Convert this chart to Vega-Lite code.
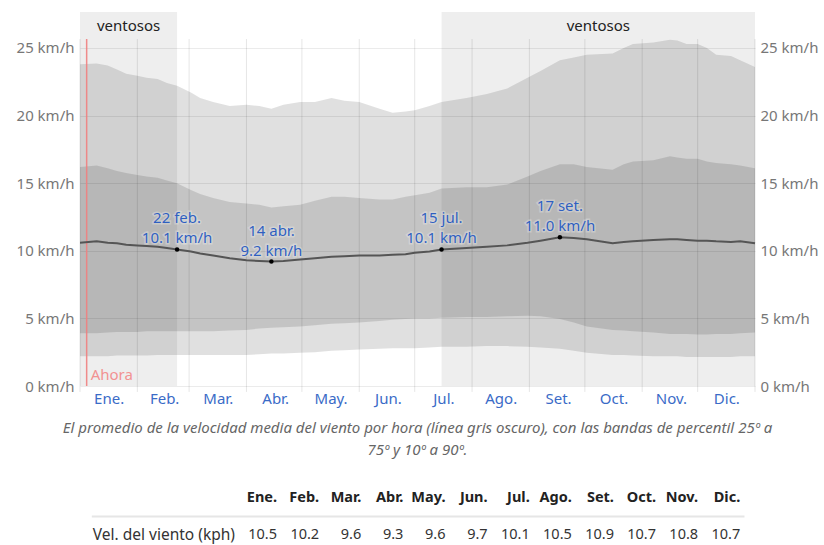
{
  "$schema": "https://vega.github.io/schema/vega-lite/v6.json",
  "padding": {"left": 16, "top": 12, "right": 0, "bottom": 0},
  "background": "white",
  "config": {"view": {"stroke": null}, "font": "Noto Sans"},
  "bounds": "flush",
  "spacing": 102.75,
  "datasets": {
    "bands": [
      {"d": 0, "p10": 2.2, "p25": 3.9, "m": 10.6, "p75": 16.2, "p90": 23.8},
      {"d": 9, "p10": 2.2, "p25": 3.9, "m": 10.7, "p75": 16.3, "p90": 23.85},
      {"d": 15, "p10": 2.2, "p25": 3.95, "m": 10.6, "p75": 16.1, "p90": 23.7},
      {"d": 20, "p10": 2.25, "p25": 4.0, "m": 10.55, "p75": 15.9, "p90": 23.4},
      {"d": 25, "p10": 2.25, "p25": 4.0, "m": 10.45, "p75": 15.75, "p90": 23.1},
      {"d": 31, "p10": 2.25, "p25": 4.0, "m": 10.4, "p75": 15.6, "p90": 22.95},
      {"d": 36, "p10": 2.25, "p25": 4.05, "m": 10.35, "p75": 15.5, "p90": 22.8},
      {"d": 42, "p10": 2.3, "p25": 4.05, "m": 10.3, "p75": 15.4, "p90": 22.7},
      {"d": 47, "p10": 2.3, "p25": 4.05, "m": 10.2, "p75": 15.2, "p90": 22.4},
      {"d": 52.5, "p10": 2.3, "p25": 4.05, "m": 10.1, "p75": 15.0, "p90": 22.2},
      {"d": 60, "p10": 2.3, "p25": 4.05, "m": 9.95, "p75": 14.5, "p90": 21.7},
      {"d": 65, "p10": 2.3, "p25": 4.05, "m": 9.8, "p75": 14.2, "p90": 21.3},
      {"d": 72, "p10": 2.3, "p25": 4.05, "m": 9.65, "p75": 13.9, "p90": 21.0},
      {"d": 81, "p10": 2.3, "p25": 4.1, "m": 9.45, "p75": 13.6, "p90": 20.7},
      {"d": 90, "p10": 2.3, "p25": 4.15, "m": 9.3, "p75": 13.5, "p90": 20.8},
      {"d": 97, "p10": 2.35, "p25": 4.25, "m": 9.25, "p75": 13.4, "p90": 20.7},
      {"d": 103.5, "p10": 2.4, "p25": 4.3, "m": 9.2, "p75": 13.2, "p90": 20.5},
      {"d": 110, "p10": 2.4, "p25": 4.35, "m": 9.25, "p75": 13.3, "p90": 20.8},
      {"d": 119, "p10": 2.45, "p25": 4.4, "m": 9.35, "p75": 13.4, "p90": 21.0},
      {"d": 127, "p10": 2.5, "p25": 4.5, "m": 9.45, "p75": 13.7, "p90": 21.0},
      {"d": 136, "p10": 2.6, "p25": 4.6, "m": 9.55, "p75": 14.0, "p90": 21.3},
      {"d": 143, "p10": 2.65, "p25": 4.65, "m": 9.6, "p75": 14.0, "p90": 21.1},
      {"d": 151, "p10": 2.7, "p25": 4.7, "m": 9.65, "p75": 13.9, "p90": 21.0},
      {"d": 162, "p10": 2.75, "p25": 4.8, "m": 9.65, "p75": 13.8, "p90": 20.5},
      {"d": 169, "p10": 2.8, "p25": 4.9, "m": 9.7, "p75": 13.8, "p90": 20.2},
      {"d": 176, "p10": 2.8, "p25": 4.95, "m": 9.75, "p75": 14.0, "p90": 20.3},
      {"d": 181, "p10": 2.8, "p25": 5.0, "m": 9.85, "p75": 14.1, "p90": 20.4},
      {"d": 189, "p10": 2.85, "p25": 5.0, "m": 9.95, "p75": 14.3, "p90": 20.7},
      {"d": 195.5, "p10": 2.9, "p25": 5.05, "m": 10.1, "p75": 14.6, "p90": 21.0},
      {"d": 209, "p10": 2.9, "p25": 5.1, "m": 10.2, "p75": 14.7, "p90": 21.3},
      {"d": 220, "p10": 2.95, "p25": 5.1, "m": 10.3, "p75": 14.7, "p90": 21.6},
      {"d": 231, "p10": 2.95, "p25": 5.15, "m": 10.4, "p75": 14.9, "p90": 22.0},
      {"d": 242, "p10": 2.9, "p25": 5.2, "m": 10.6, "p75": 15.5, "p90": 22.8},
      {"d": 249, "p10": 2.85, "p25": 5.15, "m": 10.75, "p75": 15.9, "p90": 23.3},
      {"d": 259.5, "p10": 2.75, "p25": 4.95, "m": 11.0, "p75": 16.4, "p90": 24.1},
      {"d": 267, "p10": 2.6, "p25": 4.7, "m": 10.95, "p75": 16.4, "p90": 24.3},
      {"d": 274, "p10": 2.45, "p25": 4.4, "m": 10.85, "p75": 16.2, "p90": 24.5},
      {"d": 288, "p10": 2.3, "p25": 4.15, "m": 10.55, "p75": 16.0, "p90": 24.6},
      {"d": 294, "p10": 2.3, "p25": 4.1, "m": 10.65, "p75": 16.4, "p90": 25.0},
      {"d": 299, "p10": 2.25, "p25": 4.05, "m": 10.7, "p75": 16.6, "p90": 25.3},
      {"d": 310, "p10": 2.2, "p25": 3.95, "m": 10.8, "p75": 16.7, "p90": 25.4},
      {"d": 319, "p10": 2.2, "p25": 3.85, "m": 10.85, "p75": 17.0, "p90": 25.6},
      {"d": 323, "p10": 2.2, "p25": 3.85, "m": 10.85, "p75": 16.9, "p90": 25.55},
      {"d": 328, "p10": 2.15, "p25": 3.85, "m": 10.8, "p75": 16.8, "p90": 25.3},
      {"d": 334, "p10": 2.15, "p25": 3.8, "m": 10.75, "p75": 16.8, "p90": 25.3},
      {"d": 339, "p10": 2.15, "p25": 3.8, "m": 10.75, "p75": 16.6, "p90": 25.0},
      {"d": 344, "p10": 2.15, "p25": 3.85, "m": 10.7, "p75": 16.5, "p90": 24.5},
      {"d": 352, "p10": 2.15, "p25": 3.85, "m": 10.65, "p75": 16.4, "p90": 24.4},
      {"d": 357, "p10": 2.2, "p25": 3.9, "m": 10.7, "p75": 16.3, "p90": 24.1},
      {"d": 365, "p10": 2.2, "p25": 3.95, "m": 10.55, "p75": 16.1, "p90": 23.6}
    ],
    "wind": [
      {"a": 0, "b": 52.5, "c": 26.25, "t": "ventosos"},
      {"a": 195.5, "b": 365, "c": 280.25, "t": "ventosos"}
    ],
    "months": [{"d": 0}, {"d": 31}, {"d": 59}, {"d": 90}, {"d": 120}, {"d": 151}, {"d": 181}, {"d": 212}, {"d": 243}, {"d": 273}, {"d": 304}, {"d": 334}, {"d": 365}],
    "now": [{"d": 3.6, "t": "Ahora"}],
    "notes": [
      {"d": 52.5, "v": 10.1, "txt": "22 feb.\n10.1 km/h"},
      {"d": 103.5, "v": 9.2, "txt": "14 abr.\n9.2 km/h"},
      {"d": 195.5, "v": 10.1, "txt": "15 jul.\n10.1 km/h"},
      {"d": 259.5, "v": 11.0, "txt": "17 set.\n11.0 km/h"}
    ],
    "table": [
      {"c": 1, "r": 2, "k": "h", "t": "Ene."},
      {"c": 2, "r": 2, "k": "h", "t": "Feb."},
      {"c": 3, "r": 2, "k": "h", "t": "Mar."},
      {"c": 4, "r": 2, "k": "h", "t": "Abr."},
      {"c": 5, "r": 2, "k": "h", "t": "May."},
      {"c": 6, "r": 2, "k": "h", "t": "Jun."},
      {"c": 7, "r": 2, "k": "h", "t": "Jul."},
      {"c": 8, "r": 2, "k": "h", "t": "Ago."},
      {"c": 9, "r": 2, "k": "h", "t": "Set."},
      {"c": 10, "r": 2, "k": "h", "t": "Oct."},
      {"c": 11, "r": 2, "k": "h", "t": "Nov."},
      {"c": 12, "r": 2, "k": "h", "t": "Dic."},
      {"c": 0, "r": 0, "k": "l", "t": "Vel. del viento (kph)"},
      {"c": 1, "r": 0, "k": "v", "t": "10.5"},
      {"c": 2, "r": 0, "k": "v", "t": "10.2"},
      {"c": 3, "r": 0, "k": "v", "t": "9.6"},
      {"c": 4, "r": 0, "k": "v", "t": "9.3"},
      {"c": 5, "r": 0, "k": "v", "t": "9.6"},
      {"c": 6, "r": 0, "k": "v", "t": "9.7"},
      {"c": 7, "r": 0, "k": "v", "t": "10.1"},
      {"c": 8, "r": 0, "k": "v", "t": "10.5"},
      {"c": 9, "r": 0, "k": "v", "t": "10.9"},
      {"c": 10, "r": 0, "k": "v", "t": "10.7"},
      {"c": 11, "r": 0, "k": "v", "t": "10.8"},
      {"c": 12, "r": 0, "k": "v", "t": "10.7"}
    ],
    "sep": [{"x1": -3.4, "x2": 12.1, "r": 1}]
  },
  "vconcat": [
    {
      "width": 675,
      "height": 374,
      "title": {
        "text": ["El promedio de la velocidad media del viento por hora (línea gris oscuro), con las bandas de percentil 25º a", "75º y 10º a 90º."],
        "orient": "bottom",
        "anchor": "middle",
        "frame": "group",
        "fontSize": 15,
        "fontStyle": "italic",
        "fontWeight": "normal",
        "color": "#666666",
        "lineHeight": 22,
        "offset": 15
      },
      "resolve": {"axis": {"x": "independent", "y": "independent"}},
      "layer": [
        {
          "data": {"name": "wind"},
          "mark": {"type": "rect", "color": "black", "opacity": 0.065},
          "encoding": {
            "x": {
              "field": "a", "type": "quantitative",
              "scale": {"domain": [0, 365], "nice": false, "zero": false},
              "axis": {
                "values": [15.5, 45.5, 74.5, 105.5, 135.5, 166.5, 196.5, 227.5, 258.5, 288.5, 319.5, 349.5],
                "labelExpr": "datum.value < 31 ? 'Ene.' : datum.value < 59 ? 'Feb.' : datum.value < 90 ? 'Mar.' : datum.value < 120 ? 'Abr.' : datum.value < 151 ? 'May.' : datum.value < 181 ? 'Jun.' : datum.value < 212 ? 'Jul.' : datum.value < 243 ? 'Ago.' : datum.value < 273 ? 'Set.' : datum.value < 304 ? 'Oct.' : datum.value < 334 ? 'Nov.' : 'Dic.'",
                "ticks": false,
                "domain": false,
                "grid": false,
                "labelColor": "#3a6bc7",
                "labelFontSize": 15,
                "labelPadding": 5,
                "labelOverlap": false,
                "labelFlush": false,
                "title": null
              }
            },
            "x2": {"field": "b"},
            "y": {"datum": 0, "type": "quantitative", "scale": {"domain": [0, 27.66], "nice": false, "zero": false}, "axis": null},
            "y2": {"datum": 27.66}
          }
        },
        {
          "data": {"name": "bands"},
          "mark": {"type": "area", "color": "black", "opacity": 0.12},
          "encoding": {
            "x": {"field": "d", "type": "quantitative", "axis": null},
            "y": {
              "field": "p10", "type": "quantitative",
              "axis": {
                "orient": "left",
                "values": [0, 5, 10, 15, 20, 25],
                "labelExpr": "datum.value + ' km/h'",
                "grid": true, "gridColor": "#000000", "gridOpacity": 0.08,
                "ticks": false, "domain": false,
                "labelColor": "#777777", "labelFontSize": 15, "labelPadding": 6,
                "title": null
              }
            },
            "y2": {"field": "p90"}
          }
        },
        {
          "data": {"name": "bands"},
          "mark": {"type": "area", "color": "black", "opacity": 0.12},
          "encoding": {
            "x": {"field": "d", "type": "quantitative", "axis": null},
            "y": {"field": "p25", "type": "quantitative", "axis": null},
            "y2": {"field": "p75"}
          }
        },
        {
          "data": {"name": "months"},
          "mark": {"type": "rule", "color": "black", "opacity": 0.1, "strokeWidth": 1},
          "encoding": {
            "x": {"field": "d", "type": "quantitative", "axis": null},
            "y": {"datum": -0.44, "type": "quantitative", "axis": null},
            "y2": {"datum": 25.66}
          }
        },
        {
          "data": {"name": "now"},
          "mark": {"type": "rule", "color": "#f08080", "opacity": 0.9, "strokeWidth": 1.5},
          "encoding": {
            "x": {"field": "d", "type": "quantitative", "axis": null},
            "y": {"datum": 0, "type": "quantitative", "axis": null},
            "y2": {"datum": 25.66}
          }
        },
        {
          "data": {"name": "now"},
          "mark": {"type": "text", "color": "#f29292", "fontSize": 15, "align": "left", "baseline": "bottom", "dx": 4, "dy": -3},
          "encoding": {
            "x": {"field": "d", "type": "quantitative", "axis": null},
            "y": {"datum": 0, "type": "quantitative", "axis": null},
            "text": {"field": "t"}
          }
        },
        {
          "data": {"name": "bands"},
          "mark": {"type": "line", "color": "#555555", "strokeWidth": 2},
          "encoding": {
            "x": {"field": "d", "type": "quantitative", "axis": null},
            "y": {
              "field": "m", "type": "quantitative",
              "axis": {
                "orient": "right",
                "values": [0, 5, 10, 15, 20, 25],
                "labelExpr": "datum.value + ' km/h'",
                "grid": false, "ticks": false, "domain": false,
                "labelColor": "#777777", "labelFontSize": 15, "labelPadding": 5,
                "title": null
              }
            }
          }
        },
        {
          "data": {"name": "notes"},
          "mark": {"type": "point", "filled": true, "color": "black", "opacity": 1, "size": 20},
          "encoding": {
            "x": {"field": "d", "type": "quantitative", "axis": null},
            "y": {"field": "v", "type": "quantitative", "axis": null}
          }
        },
        {
          "data": {"name": "notes"},
          "mark": {"type": "text", "fontSize": 15, "lineBreak": "\n", "lineHeight": 20, "baseline": "bottom", "dy": -23, "color": "white", "stroke": "white", "strokeWidth": 3, "strokeOpacity": 0.5, "opacity": 0.5},
          "encoding": {
            "x": {"field": "d", "type": "quantitative", "axis": null},
            "y": {"field": "v", "type": "quantitative", "axis": null},
            "text": {"field": "txt"}
          }
        },
        {
          "data": {"name": "notes"},
          "mark": {"type": "text", "fontSize": 15, "lineBreak": "\n", "lineHeight": 20, "baseline": "bottom", "dy": -23, "color": "#2f5fc0"},
          "encoding": {
            "x": {"field": "d", "type": "quantitative", "axis": null},
            "y": {"field": "v", "type": "quantitative", "axis": null},
            "text": {"field": "txt"}
          }
        },
        {
          "data": {"name": "wind"},
          "mark": {"type": "text", "fontSize": 15, "color": "#222222", "baseline": "middle"},
          "encoding": {
            "x": {"field": "c", "type": "quantitative", "axis": null},
            "y": {"datum": 26.6, "type": "quantitative", "axis": null},
            "text": {"field": "t"}
          }
        }
      ]
    },
    {
      "width": 675,
      "height": 55.5,
      "layer": [
        {
          "data": {"name": "sep"},
          "mark": {"type": "rule", "color": "#e6e6e6", "strokeWidth": 2},
          "encoding": {
            "x": {"field": "x1", "type": "quantitative", "scale": {"domain": [-3.68, 12.35], "nice": false, "zero": false}, "axis": null},
            "x2": {"field": "x2"},
            "y": {"field": "r", "type": "quantitative", "scale": {"domain": [-0.5, 2.5], "nice": false, "zero": false}, "axis": null}
          }
        },
        {
          "data": {"name": "table"},
          "transform": [{"filter": "datum.k == 'h'"}],
          "mark": {"type": "text", "align": "right", "baseline": "middle", "fontWeight": "bold", "fontSize": 14.5, "color": "#222222"},
          "encoding": {
            "x": {"field": "c", "type": "quantitative", "axis": null},
            "y": {"field": "r", "type": "quantitative", "axis": null},
            "text": {"field": "t"}
          }
        },
        {
          "data": {"name": "table"},
          "transform": [{"filter": "datum.k == 'v'"}],
          "mark": {"type": "text", "align": "right", "baseline": "middle", "fontSize": 14.5, "color": "#333333"},
          "encoding": {
            "x": {"field": "c", "type": "quantitative", "axis": null},
            "y": {"field": "r", "type": "quantitative", "axis": null},
            "text": {"field": "t"}
          }
        },
        {
          "data": {"name": "table"},
          "transform": [{"filter": "datum.k == 'l'"}],
          "mark": {"type": "text", "align": "right", "baseline": "middle", "fontSize": 15.5, "color": "#333333"},
          "encoding": {
            "x": {"field": "c", "type": "quantitative", "axis": null},
            "y": {"field": "r", "type": "quantitative", "axis": null},
            "text": {"field": "t"}
          }
        }
      ]
    }
  ]
}
